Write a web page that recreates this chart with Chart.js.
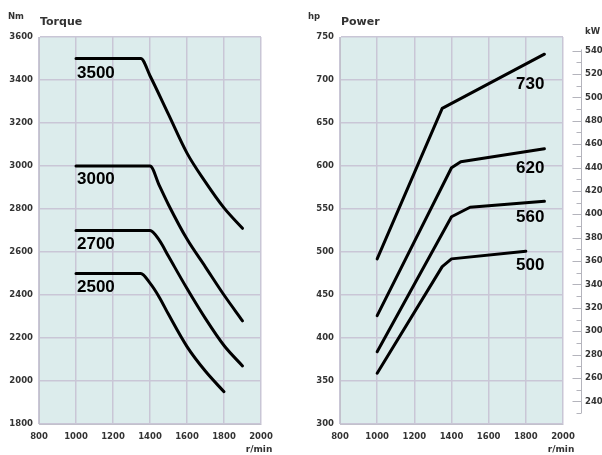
<!DOCTYPE html>
<html>
<head>
<meta charset="utf-8">
<script src="https://cdn.jsdelivr.net/npm/chart.js@4.4.1/dist/chart.umd.min.js"></script>
<style>
  body { margin: 0; background: #fff; }
  #wrap { position: relative; width: 602px; height: 455px; }
  #torqueBox { position: absolute; left: 0; top: 0; width: 300px; height: 455px; }
  #powerBox { position: absolute; left: 300px; top: 0; width: 302px; height: 455px; }
</style>
</head>
<body>
<div id="wrap">
  <div id="torqueBox"><canvas id="torqueChart"></canvas></div>
  <div id="powerBox"><canvas id="powerChart"></canvas></div>
</div>
<script>
// Torque curves (Nm vs r/min)
const torqueLabels = ["3500", "3000", "2700", "2500"];
const torque3500Rpm = [1000, 1350, 1400, 1500, 1600, 1700, 1800, 1900];
const torque3500Nm = [3500, 3500, 3420, 3240, 3060, 2925, 2805, 2710];
const torque3000Rpm = [1000, 1400, 1450, 1500, 1600, 1700, 1800, 1900];
const torque3000Nm = [3000, 3000, 2910, 2820, 2660, 2530, 2400, 2280];
const torque2700Rpm = [1000, 1400, 1450, 1500, 1600, 1700, 1800, 1900];
const torque2700Nm = [2700, 2700, 2655, 2580, 2430, 2290, 2165, 2070];
const torque2500Rpm = [1000, 1350, 1400, 1450, 1500, 1600, 1700, 1800];
const torque2500Nm = [2500, 2500, 2455, 2390, 2310, 2160, 2045, 1950];

// Power curves (hp vs r/min)
const powerLabels = ["730", "620", "560", "500"];
const power730Rpm = [1000, 1350, 1900];
const power730Hp = [492, 667, 730];
const power620Rpm = [1000, 1400, 1450, 1900];
const power620Hp = [426, 598, 605, 620];
const power560Rpm = [1000, 1400, 1500, 1900];
const power560Hp = [384, 541, 552, 559];
const power500Rpm = [1000, 1350, 1400, 1800];
const power500Hp = [359, 483, 492, 501];

// kW scale on the right of the power chart (metric hp)
const kwPerHp = 0.7355;
const kwTickLabels = [240, 260, 280, 300, 320, 340, 360, 380, 400, 420, 440, 460, 480, 500, 520, 540];
const kwMin = 230;
const kwMax = 541;

Chart.defaults.font.family = "'DejaVu Sans', sans-serif";
Chart.defaults.font.weight = "bold";
Chart.defaults.font.size = 8.5;
Chart.defaults.color = "#333";

const gridColor = "#c9c6d6";
const plotFill = "#dcecec";

function toPoints(xs, ys) {
  return xs.map((x, i) => ({ x: x, y: ys[i] }));
}

function curve(label, xs, ys, smooth) {
  return {
    label: label,
    data: toPoints(xs, ys),
    borderColor: "#000",
    borderWidth: 3,
    pointRadius: 0,
    tension: smooth ? 0.4 : 0,
    cubicInterpolationMode: smooth ? "monotone" : "default",
    borderCapStyle: "round",
    borderJoinStyle: "round",
    fill: false,
  };
}

const plotBg = {
  id: "plotBg",
  beforeDraw(chart) {
    const { ctx, chartArea: a } = chart;
    ctx.save();
    ctx.fillStyle = plotFill;
    ctx.fillRect(a.left, a.top, a.right - a.left, a.bottom - a.top);
    ctx.restore();
  },
};

// titles, unit and the curve labels
function textPlugin(unit, title, labelMode, offsets) {
  return {
    id: "texts",
    afterDraw(chart) {
      const { ctx, chartArea: a } = chart;
      const xs = chart.scales.x;
      ctx.save();
      ctx.fillStyle = "#333";
      ctx.textBaseline = "middle";
      ctx.textAlign = "left";
      ctx.font = "bold 8.5px 'DejaVu Sans'";
      ctx.fillText(unit, 8, 17);
      ctx.font = "bold 11px 'DejaVu Sans'";
      ctx.fillText(title, a.left + 1, 22);
      ctx.font = "bold 9px 'DejaVu Sans'";
      ctx.textAlign = "center";
      ctx.fillText("r/min", xs.getPixelForValue(2000) - 2, 450);

      ctx.fillStyle = "#000";
      ctx.font = "bold 17px 'Liberation Sans'";
      ctx.textBaseline = "alphabetic";
      chart.data.datasets.forEach((ds, i) => {
        const meta = chart.getDatasetMeta(i);
        if (labelMode === "start") {
          const p = meta.data[0];
          ctx.textAlign = "left";
          ctx.fillText(ds.label, p.x + 1, p.y + offsets[i]);
        } else {
          const p = meta.data[meta.data.length - 1];
          ctx.textAlign = "right";
          ctx.fillText(ds.label, xs.getPixelForValue(1900), p.y + offsets[i]);
        }
      });
      ctx.restore();
    },
  };
}

const kwAxis = {
  id: "kwAxis",
  afterDraw(chart) {
    const { ctx, chartArea: a } = chart;
    const ys = chart.scales.y;
    const lineX = a.right + 18.5;
    const py = (kw) => ys.getPixelForValue(kw / kwPerHp);
    ctx.save();
    ctx.strokeStyle = "#b4b4bc";
    ctx.lineWidth = 1;
    ctx.beginPath();
    ctx.moveTo(lineX, py(kwMax));
    ctx.lineTo(lineX, py(kwMin));
    for (let kw = kwMin; kw <= kwMax; kw += 10) {
      const major = kwTickLabels.includes(kw);
      const y = Math.round(py(kw)) + 0.5;
      ctx.moveTo(lineX - (major ? 9 : 5), y);
      ctx.lineTo(lineX, y);
    }
    ctx.stroke();
    ctx.fillStyle = "#333";
    ctx.font = "bold 8.5px 'DejaVu Sans'";
    ctx.textAlign = "left";
    ctx.textBaseline = "middle";
    kwTickLabels.forEach((kw) => ctx.fillText(String(kw), lineX + 3.5, py(kw)));
    ctx.fillText("kW", lineX + 3.5, 32);
    ctx.restore();
  },
};

function axes(yMin, yMax, yStep, yWidth) {
  return {
    x: {
      type: "linear",
      min: 800,
      max: 2000,
      ticks: { stepSize: 200, padding: 8, maxRotation: 0, callback: (v) => String(v) },
      grid: { color: gridColor, lineWidth: 1.5, drawTicks: false },
      border: { color: "#c2c1cc", width: 1 },
      afterFit(scale) { scale.height = 31; },
    },
    y: {
      min: yMin,
      max: yMax,
      ticks: { stepSize: yStep, padding: 6, callback: (v) => String(v) },
      grid: { color: gridColor, lineWidth: 1.5, drawTicks: false },
      border: { color: "#c2c1cc", width: 1 },
      afterFit(scale) { scale.width = yWidth; },
    },
  };
}

const baseOptions = {
  responsive: true,
  maintainAspectRatio: false,
  animation: false,
  plugins: { legend: { display: false }, tooltip: { enabled: false } },
};

new Chart(document.getElementById("torqueChart"), {
  type: "line",
  data: {
    datasets: [
      curve(torqueLabels[0], torque3500Rpm, torque3500Nm, true),
      curve(torqueLabels[1], torque3000Rpm, torque3000Nm, true),
      curve(torqueLabels[2], torque2700Rpm, torque2700Nm, true),
      curve(torqueLabels[3], torque2500Rpm, torque2500Nm, true),
    ],
  },
  options: Object.assign({}, baseOptions, {
    layout: { padding: { top: 37, right: 39, left: 0, bottom: 0 } },
    scales: axes(1800, 3600, 200, 39),
  }),
  plugins: [plotBg, textPlugin("Nm", "Torque", "start", [19, 18, 18, 18])],
});

new Chart(document.getElementById("powerChart"), {
  type: "line",
  data: {
    datasets: [
      curve(powerLabels[0], power730Rpm, power730Hp, false),
      curve(powerLabels[1], power620Rpm, power620Hp, false),
      curve(powerLabels[2], power560Rpm, power560Hp, false),
      curve(powerLabels[3], power500Rpm, power500Hp, false),
    ],
  },
  options: Object.assign({}, baseOptions, {
    layout: { padding: { top: 37, right: 39, left: 0, bottom: 0 } },
    scales: axes(300, 750, 50, 40),
  }),
  plugins: [plotBg, kwAxis, textPlugin("hp", "Power", "end", [35, 24, 21, 19])],
});
</script>
</body>
</html>
